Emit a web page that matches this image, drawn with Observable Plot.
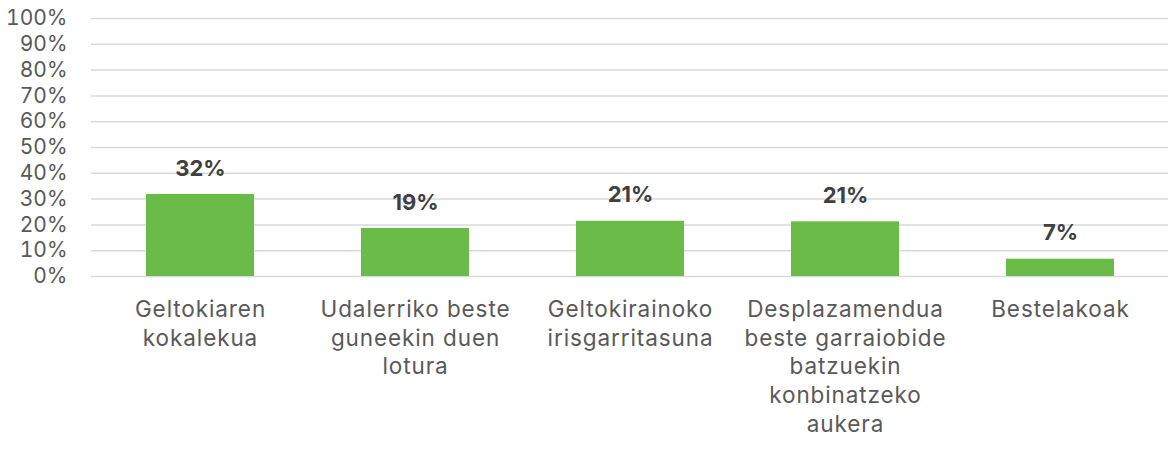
<!DOCTYPE html>
<html>
<head>
<meta charset="utf-8">
<script src="https://cdn.jsdelivr.net/npm/d3@7"></script>
<script src="https://cdn.jsdelivr.net/npm/@observablehq/plot@0.6"></script>
<style>
  html, body { margin: 0; padding: 0; background: #fff; }
  #chart svg { display: block; }
  .xlab text { letter-spacing: 0.9px; }
</style>
</head>
<body>
<div id="chart"></div>
<script>
const categories = [
  "Geltokiaren\nkokalekua",
  "Udalerriko beste\nguneekin duen\nlotura",
  "Geltokirainoko\nirisgarritasuna",
  "Desplazamendua\nbeste garraiobide\nbatzuekin\nkonbinatzeko\naukera",
  "Bestelakoak"
];
const values = [31.8, 18.6, 21.4, 21.2, 6.7];
const yTicks = [0, 10, 20, 30, 40, 50, 60, 70, 80, 90, 100];

const data = categories.map((c, i) => ({category: c, value: values[i]}));

const chart = Plot.plot({
  width: 1168,
  height: 453,
  marginLeft: 91,
  marginRight: 0,
  marginTop: 18,
  marginBottom: 177,
  style: {fontFamily: "Inter, sans-serif", background: "#fff"},
  x: {domain: categories, paddingInner: 0.5, paddingOuter: 0.25, axis: null},
  y: {domain: [0, 100], axis: null},
  marks: [
    Plot.ruleY(yTicks, {stroke: "#d9d9d9", strokeWidth: 1.5}),
    Plot.axisY(yTicks, {
      tickSize: 0, tickPadding: 24, fontSize: 21, fill: "#595959",
      tickFormat: d => d + "%", label: null
    }),
    Plot.barY(data, {x: "category", y: "value", fill: "#6abb47"}),
    Plot.text(data, {
      x: "category", y: "value", text: d => Math.round(d.value) + "%",
      dy: -26, fontSize: 22, fontWeight: "bold", fill: "#404040"
    }),
    Plot.axisX(categories, {
      tickSize: 0, tickPadding: 20, fontSize: 22.5, fill: "#595959",
      lineHeight: 1.276, label: null, className: "xlab"
    })
  ]
});
document.getElementById("chart").appendChild(chart);
</script>
</body>
</html>
